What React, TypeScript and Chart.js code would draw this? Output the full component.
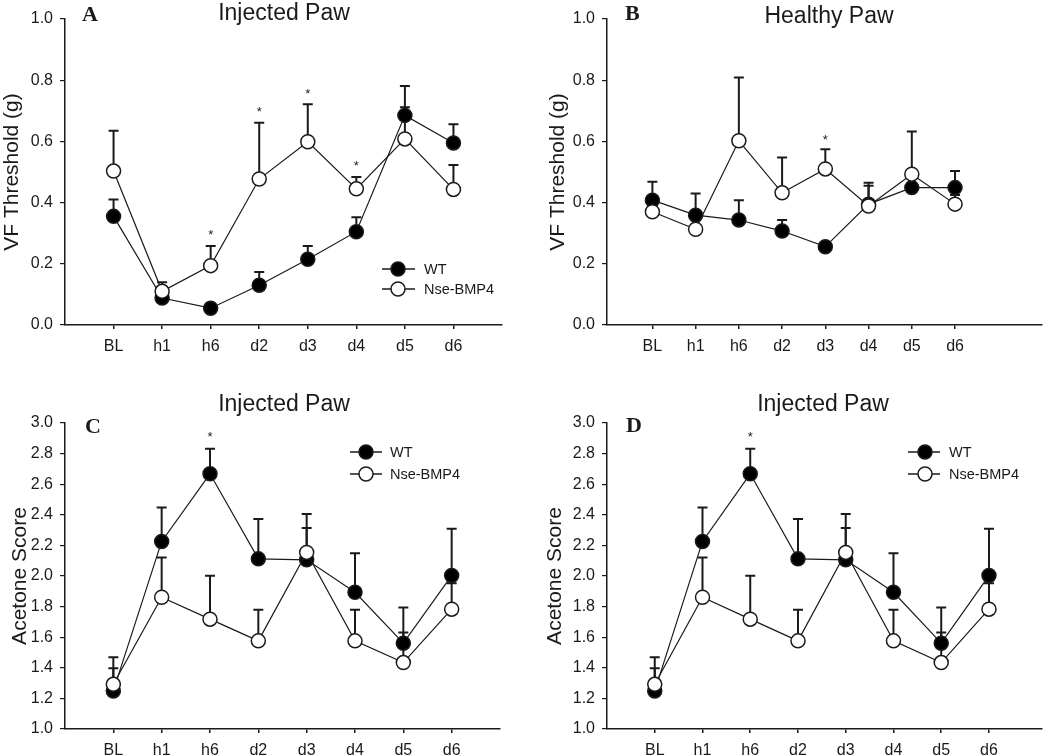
import React, { useEffect, useRef } from "react";
import { Chart, registerables } from "chart.js";

Chart.register(...registerables);

// ---------- data ----------
const CATEGORIES = ["BL", "h1", "h6", "d2", "d3", "d4", "d5", "d6"];
const SERIES_NAMES = ["WT", "Nse-BMP4"];

const VF_TICKS = [0, 0.2, 0.4, 0.6, 0.8, 1.0];
const ACETONE_TICKS = [1.0, 1.2, 1.4, 1.6, 1.8, 2.0, 2.2, 2.4, 2.6, 2.8, 3.0];

// Panel A – VF threshold, injected paw
const A_WT = [0.355, 0.088, 0.055, 0.13, 0.215, 0.305, 0.685, 0.595];
const A_WT_SEM = [0.055, 0.03, 0.015, 0.043, 0.043, 0.047, 0.096, 0.061];
const A_NSE = [0.503, 0.11, 0.194, 0.477, 0.599, 0.445, 0.608, 0.443];
const A_NSE_SEM = [0.132, 0.03, 0.064, 0.184, 0.122, 0.039, 0.104, 0.08];
const A_STAR_AT = [2, 3, 4, 5];
const A_STAR_Y = [0.303, 0.703, 0.763, 0.528];

// Panel B – VF threshold, healthy paw
const B_WT = [0.408, 0.359, 0.343, 0.307, 0.256, 0.395, 0.449, 0.449];
const B_WT_SEM = [0.06, 0.071, 0.065, 0.036, 0.01, 0.06, 0.04, 0.054];
const B_NSE = [0.37, 0.313, 0.602, 0.432, 0.51, 0.389, 0.493, 0.395];
const B_NSE_SEM = [0.03, 0.03, 0.207, 0.115, 0.064, 0.076, 0.139, 0.03];
const B_STAR_AT = [4];
const B_STAR_Y = [0.612];

// Panel C – acetone score, injected paw
const C_WT = [1.249, 2.226, 2.668, 2.112, 2.106, 1.894, 1.561, 2.003];
const C_WT_SEM = [0.148, 0.222, 0.164, 0.26, 0.207, 0.255, 0.233, 0.306];
const C_NSE = [1.292, 1.861, 1.718, 1.576, 2.154, 1.576, 1.434, 1.783];
const C_NSE_SEM = [0.177, 0.26, 0.283, 0.203, 0.251, 0.203, 0.196, 0.17];
const C_STAR_AT = [2];
const C_STAR_Y = [2.928];

// Panel D – acetone score, injected paw (same as C)
const D_WT = [1.249, 2.226, 2.668, 2.112, 2.106, 1.894, 1.561, 2.003];
const D_WT_SEM = [0.148, 0.222, 0.164, 0.26, 0.207, 0.255, 0.233, 0.306];
const D_NSE = [1.292, 1.861, 1.718, 1.576, 2.154, 1.576, 1.434, 1.783];
const D_NSE_SEM = [0.177, 0.26, 0.283, 0.203, 0.251, 0.203, 0.196, 0.17];
const D_STAR_AT = [2];
const D_STAR_Y = [2.924];

// ---------- style ----------
const SANS = "'Liberation Sans', Arial, sans-serif";
const SERIF = "'Liberation Serif', 'Times New Roman', serif";
const INK = "#1a1a1a";
const R = 7;

type Legend = { x0: number; x1: number; mx: number; tx: number; y1: number; y2: number };
type Panel = {
  left: number; top: number; w: number; h: number;
  padL: number; padT: number; padR: number; yW: number; xH: number;
  xMin: number; xMax: number; yMin: number; yMax: number; yTicks: number[];
  yTitle: string; title: string; titleX: number; titleY: number;
  letter: string; letterX: number; letterY: number;
  wt: number[]; wtSem: number[]; nse: number[]; nseSem: number[];
  starAt: number[]; starY: number[]; legend?: Legend;
};

const PANELS: Panel[] = [
  {
    left: 0, top: 0, w: 525, h: 378, padL: 0, padT: 19, padR: 23, yW: 65, xH: 53,
    xMin: -1, xMax: 8, yMin: 0, yMax: 1, yTicks: VF_TICKS,
    yTitle: "VF Threshold (g)", title: "Injected Paw", titleX: 284, titleY: 20,
    letter: "A", letterX: 82, letterY: 21,
    wt: A_WT, wtSem: A_WT_SEM, nse: A_NSE, nseSem: A_NSE_SEM,
    starAt: A_STAR_AT, starY: A_STAR_Y,
    legend: { x0: 382, x1: 415, mx: 398, tx: 424, y1: 269, y2: 289 },
  },
  {
    left: 525, top: 0, w: 525, h: 378, padL: 21, padT: 19, padR: 3, yW: 61, xH: 53,
    xMin: -1.05, xMax: 9, yMin: 0, yMax: 1, yTicks: VF_TICKS,
    yTitle: "VF Threshold (g)", title: "Healthy Paw", titleX: 304, titleY: 23,
    letter: "B", letterX: 100, letterY: 20,
    wt: B_WT, wtSem: B_WT_SEM, nse: B_NSE, nseSem: B_NSE_SEM,
    starAt: B_STAR_AT, starY: B_STAR_Y,
  },
  {
    left: 0, top: 378, w: 525, h: 378, padL: 8, padT: 45, padR: 25, yW: 57, xH: 27,
    xMin: -1, xMax: 8, yMin: 1, yMax: 3, yTicks: ACETONE_TICKS,
    yTitle: "Acetone Score", title: "Injected Paw", titleX: 284, titleY: 33,
    letter: "C", letterX: 85, letterY: 55,
    wt: C_WT, wtSem: C_WT_SEM, nse: C_NSE, nseSem: C_NSE_SEM,
    starAt: C_STAR_AT, starY: C_STAR_Y,
    legend: { x0: 350, x1: 382, mx: 366, tx: 390, y1: 74, y2: 96 },
  },
  {
    left: 525, top: 378, w: 525, h: 378, padL: 18, padT: 45, padR: 3, yW: 64, xH: 27,
    xMin: -1, xMax: 8.1, yMin: 1, yMax: 3, yTicks: ACETONE_TICKS,
    yTitle: "Acetone Score", title: "Injected Paw", titleX: 298, titleY: 33,
    letter: "D", letterX: 101, letterY: 54,
    wt: D_WT, wtSem: D_WT_SEM, nse: D_NSE, nseSem: D_NSE_SEM,
    starAt: D_STAR_AT, starY: D_STAR_Y,
    legend: { x0: 383, x1: 415, mx: 400, tx: 424, y1: 74, y2: 96 },
  },
];

function drawMarker(ctx: CanvasRenderingContext2D, x: number, y: number, filled: boolean) {
  ctx.beginPath();
  ctx.arc(x, y, R, 0, Math.PI * 2);
  ctx.fillStyle = filled ? "#000" : "#fff";
  ctx.fill();
  ctx.lineWidth = 1.5;
  ctx.strokeStyle = INK;
  ctx.stroke();
}

function makePlugin(p: Panel) {
  return {
    id: "decor" + p.letter,
    beforeDatasetsDraw(chart: any) {
      const ctx = chart.ctx as CanvasRenderingContext2D;
      const xs = chart.scales.x;
      const ys = chart.scales.y;
      ctx.save();
      ctx.strokeStyle = INK;
      ctx.lineWidth = 2;
      chart.data.datasets.forEach((ds: any) => {
        ds.data.forEach((pt: any, i: number) => {
          const px = xs.getPixelForValue(pt.x);
          const y0 = ys.getPixelForValue(pt.y);
          const y1 = ys.getPixelForValue(pt.y + ds.sem[i]);
          ctx.beginPath();
          ctx.moveTo(px, y0);
          ctx.lineTo(px, y1);
          ctx.moveTo(px - 5, y1);
          ctx.lineTo(px + 5, y1);
          ctx.stroke();
        });
      });
      ctx.restore();
    },
    afterDraw(chart: any) {
      const ctx = chart.ctx as CanvasRenderingContext2D;
      const xs = chart.scales.x;
      const ys = chart.scales.y;
      ctx.save();
      // title
      ctx.fillStyle = INK;
      ctx.font = `23px ${SANS}`;
      ctx.textAlign = "center";
      ctx.textBaseline = "alphabetic";
      ctx.fillText(p.title, p.titleX, p.titleY);
      // panel letter
      ctx.font = `bold 22px ${SERIF}`;
      ctx.textAlign = "left";
      ctx.fillText(p.letter, p.letterX, p.letterY);
      // significance stars
      ctx.font = `13px ${SANS}`;
      ctx.textAlign = "center";
      ctx.textBaseline = "middle";
      p.starAt.forEach((c, i) => {
        ctx.fillText("*", xs.getPixelForValue(c), ys.getPixelForValue(p.starY[i]) + 3);
      });
      // legend
      if (p.legend) {
        const L = p.legend;
        [L.y1, L.y2].forEach((y, k) => {
          ctx.strokeStyle = INK;
          ctx.lineWidth = 1.5;
          ctx.beginPath();
          ctx.moveTo(L.x0, y);
          ctx.lineTo(L.x1, y);
          ctx.stroke();
          drawMarker(ctx, L.mx, y, k === 0);
          ctx.fillStyle = INK;
          ctx.font = `14.5px ${SANS}`;
          ctx.textAlign = "left";
          ctx.textBaseline = "middle";
          ctx.fillText(SERIES_NAMES[k], L.tx, y + 1);
        });
      }
      ctx.restore();
    },
  };
}

function PanelChart({ p }: { p: Panel }) {
  const ref = useRef<HTMLCanvasElement | null>(null);
  useEffect(() => {
    if (!ref.current) return;
    const toPts = (arr: number[]) => arr.map((y, i) => ({ x: i, y }));
    const chart = new Chart(ref.current, {
      type: "line",
      data: {
        datasets: [
          {
            label: SERIES_NAMES[0],
            data: toPts(p.wt),
            sem: p.wtSem,
            order: 1,
            borderColor: INK,
            borderWidth: 1.2,
            pointRadius: R,
            pointBackgroundColor: "#000",
            pointBorderColor: INK,
            pointBorderWidth: 1.5,
            tension: 0,
            clip: false,
          } as any,
          {
            label: SERIES_NAMES[1],
            data: toPts(p.nse),
            sem: p.nseSem,
            order: 0,
            borderColor: INK,
            borderWidth: 1.2,
            pointRadius: R,
            pointBackgroundColor: "#fff",
            pointBorderColor: INK,
            pointBorderWidth: 1.5,
            tension: 0,
            clip: false,
          } as any,
        ],
      },
      options: {
        animation: false,
        responsive: false,
        devicePixelRatio: 1,
        layout: { padding: { left: p.padL, top: p.padT, right: p.padR, bottom: 0 } },
        plugins: { legend: { display: false }, tooltip: { enabled: false } },
        events: [],
        scales: {
          x: {
            type: "linear",
            min: p.xMin,
            max: p.xMax,
            afterFit: (s: any) => { s.height = p.xH; },
            afterBuildTicks: (s: any) => { s.ticks = CATEGORIES.map((_, i) => ({ value: i })); },
            ticks: {
              callback: (_v: any, i: number) => CATEGORIES[i],
              color: INK,
              font: { family: SANS, size: 16 },
              padding: 8,
              maxRotation: 0,
              autoSkip: false,
            },
            grid: { display: true, drawOnChartArea: false, drawTicks: true, tickLength: 4, color: INK, lineWidth: 1.5 },
            border: { display: true, color: INK, width: 1.5 },
          },
          y: {
            type: "linear",
            min: p.yMin,
            max: p.yMax,
            afterFit: (s: any) => { s.width = p.yW; },
            afterBuildTicks: (s: any) => { s.ticks = p.yTicks.map((v) => ({ value: v })); },
            ticks: {
              callback: (v: any) => Number(v).toFixed(1),
              color: INK,
              font: { family: SANS, size: 16 },
              padding: 7,
            },
            grid: { display: true, drawOnChartArea: false, drawTicks: true, tickLength: 5, color: INK, lineWidth: 1.2 },
            border: { display: true, color: INK, width: 1.5 },
            title: {
              display: true,
              text: p.yTitle,
              color: INK,
              font: { family: SANS, size: 21 },
              padding: 0,
            },
          },
        },
      },
      plugins: [makePlugin(p)],
    } as any);
    return () => chart.destroy();
  }, [p]);
  return (
    <div style={{ position: "absolute", left: p.left, top: p.top, width: p.w, height: p.h }}>
      <canvas ref={ref} width={p.w} height={p.h} style={{ display: "block", width: p.w, height: p.h }} />
    </div>
  );
}

export default function App() {
  return (
    <div style={{ position: "absolute", left: 0, top: 0, width: 1050, height: 756, background: "#fff", overflow: "hidden" }}>
      {PANELS.map((p) => (
        <PanelChart key={p.letter} p={p} />
      ))}
    </div>
  );
}
